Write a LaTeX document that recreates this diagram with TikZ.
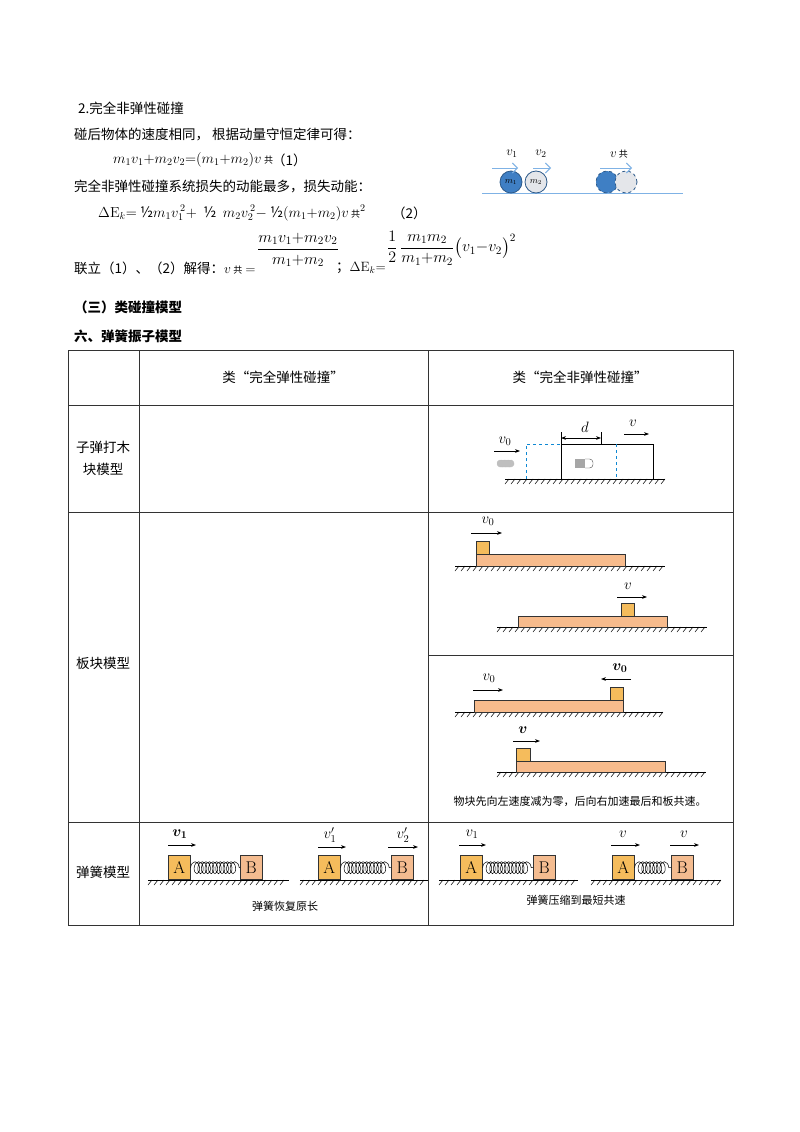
\RequirePackage{fix-cm}
\documentclass[tikz,border=0pt]{standalone}
\usepackage{amsmath}
\usepackage[no-math]{fontspec}
\setmainfont{Noto Sans CJK SC}
\usetikzlibrary{decorations.pathmorphing,arrows.meta}
\definecolor{ballblue}{HTML}{3F7FC4}
\definecolor{ballgray}{HTML}{E4E6EA}
\definecolor{lineblue}{HTML}{7FB2E5}
\definecolor{blkA}{HTML}{F5BC5C}
\definecolor{blkB}{HTML}{F4BC90}
\definecolor{board}{HTML}{F7BB8C}
\tikzset{
 txt/.style={anchor=west,inner sep=0pt,font=\fontsize{13.5}{16}\selectfont},
 ctxt/.style={inner sep=0pt,font=\fontsize{13.5}{16}\selectfont},
 small/.style={inner sep=0pt,font=\fontsize{11}{13}\selectfont},
 lbl/.style={inner sep=0pt,font=\fontsize{15}{17}\selectfont},
 tbl/.style={line width=0.8pt,draw=black!80},
 arr/.style={-{Stealth[length=5pt]},line width=0.8pt},
 blk/.style={draw=black!80,line width=0.6pt},
 spring/.style={decorate,decoration={coil,aspect=0.6,segment length=3.6pt,amplitude=6pt},line width=0.5pt},
 box/.style={blk,minimum width=22pt,minimum height=24pt,inner sep=0pt,anchor=south west,font=\fontsize{17}{18}\selectfont}
}
\newcommand{\gong}{\,{\fontsize{9}{10}\selectfont 共}}
\newcommand{\groundline}[3]{%
 \draw[line width=0.9pt] (#1,#3) -- (#2,#3);
 \pgfmathsetmacro{\gend}{#2-4}
 \pgfmathsetmacro{\gsec}{#1+6}
 \foreach \gx in {#1,\gsec,...,\gend}{\draw[line width=0.5pt] ({\gx+4},#3) -- (\gx,#3+5);}
}
\begin{document}
\begin{tikzpicture}[x=1pt,y=-1pt]
\useasboundingbox (0,0) rectangle (800,1132);
\fill[white] (0,0) rectangle (800,1132);
% top text
\node[txt] (t1) at (78,108) {2.完全非弹性碰撞};
\node[txt] (t2) at (74,135) {碰后物体的速度相同， 根据动量守恒定律可得：};
\node[txt,font=\fontsize{14.5}{16}\selectfont] (e1) at (113,160) {$m_1v_1{+}m_2v_2{=}(m_1{+}m_2)v$\gong};
\node[txt] (n1) at (272,160) {（1）};
\node[txt] (t3) at (74,186) {完全非弹性碰撞系统损失的动能最多，损失动能：};
\node[txt,font=\fontsize{14.5}{16}\selectfont] (e2) at (98,213) {$\Delta\mathrm{E}_k{=}$\ ½$m_1v_1^{\,2}{+}$\ \ ½\ \ $m_2v_2^{\,2}{-}$\ ½$(m_1{+}m_2)v$\gong$^2$};
\node[txt] (n2) at (392,213) {（2）};
\node[txt] (t4) at (74,268) {联立（1）、（2）解得：$v$\gong{} $=$};
\node[ctxt,font=\fontsize{16}{18}\selectfont] (f1) at (298,250) {$\displaystyle\frac{m_1v_1{+}m_2v_2}{m_1{+}m_2}$};
\node[txt] (t5) at (336,268) {；$\Delta\mathrm{E}_k{=}$};
\node[txt,font=\fontsize{16}{18}\selectfont] (f2) at (387,248) {$\displaystyle\frac12\,\frac{m_1m_2}{m_1{+}m_2}\bigl(v_1{-}v_2\bigr)^2$};
% balls
\draw[lineblue,line width=1pt] (482,193) -- (683,193);
\node[circle,draw=ballblue!70!black,fill=ballblue,minimum size=22pt,inner sep=0pt,line width=0.8pt,font=\small] (b1) at (511,182) {$m_1$};
\node[circle,draw=ballblue!70!black,fill=ballgray,minimum size=22pt,inner sep=0pt,line width=0.8pt,font=\small] (b2) at (536,182) {$m_2$};
\node[circle,draw=ballblue!70!black,fill=ballblue,dashed,minimum size=22pt,inner sep=0pt,line width=0.8pt] (b3) at (607,182) {};
\node[circle,draw=ballblue!70!black,fill=ballgray,dashed,minimum size=22pt,inner sep=0pt,line width=0.8pt] (b4) at (626,182) {};
\draw[lineblue,-{Straight Barb[length=5pt]},line width=0.9pt] (492,168) -- (518,168);
\draw[lineblue,-{Straight Barb[length=5pt]},line width=0.9pt] (533,168) -- (551,168);
\draw[lineblue,-{Straight Barb[length=5pt]},line width=0.9pt] (600,168) -- (632,168);
\node[lbl,font=\fontsize{13}{15}\selectfont] (lv1) at (512,154) {$v_1$};
\node[lbl,font=\fontsize{13}{15}\selectfont] (lv2) at (541,154) {$v_2$};
\node[lbl,font=\fontsize{13}{15}\selectfont] (lv3) at (619,154) {$v$\gong};
% headings
\node[txt,font=\fontsize{13.5}{16}\selectfont\bfseries] (h1) at (74,307) {（三）类碰撞模型};
\node[txt,font=\fontsize{13.5}{16}\selectfont\bfseries] (h2) at (74,336) {六、弹簧振子模型};
% table
\draw[tbl] (68,350) rectangle (733,925);
\draw[tbl] (139,350) -- (139,925);
\draw[tbl] (428,350) -- (428,925);
\draw[tbl] (68,405) -- (733,405);
\draw[tbl] (68,512) -- (733,512);
\draw[tbl] (68,822) -- (733,822);
\draw[tbl] (428,655) -- (733,655);
\node[ctxt] (c1) at (283,377) {类“完全弹性碰撞”};
\node[ctxt] (c2) at (580,377) {类“完全非弹性碰撞”};
\node[ctxt,align=center,font=\fontsize{13.5}{22}\selectfont] (r1) at (103,458) {子弹打木\\块模型};
\node[ctxt] (r2) at (103,663) {板块模型};
\node[ctxt] (r3) at (103,872) {弹簧模型};
% bullet into block
\groundline{505}{665}{479}
\draw[line width=0.8pt] (561,479) -- (561,444) -- (653,444) -- (653,479);
\draw[cyan!70!blue,dashed,line width=0.7pt] (526,479) -- (526,444) -- (561,444);
\draw[cyan!70!blue,dashed,line width=0.7pt] (616,444) -- (616,479);
\draw[line width=0.6pt] (601,432) -- (601,444);
\draw[line width=0.6pt] (561,432) -- (561,444);
\draw[arr,{Stealth[length=5pt]}-{Stealth[length=5pt]}] (561,438) -- (601,438);
\node[lbl] (ld) at (585,427) {$d$};
\draw[arr] (624,434) -- (649,434);
\node[lbl] (lv) at (633,423) {$v$};
\draw[arr] (494,451) -- (520,451);
\node[lbl] (lv0) at (505,441) {$v_0$};
\draw[gray!60,fill=gray!50,rounded corners=3pt,densely dotted] (497,460) -- (514,460) -- (514,467) -- (497,467) -- cycle;
\fill[gray!70] (575,459) rectangle (585,468);
\draw[black!70,fill=white,rounded corners=3.5pt] (585,459) -- (593,459) -- (593,468) -- (585,468);
% board 1
\groundline{455}{665}{566}
\draw[blk,fill=board] (476,554) rectangle (625,566);
\draw[blk,fill=blkA] (476,541) rectangle (489,554);
\draw[arr] (471,533) -- (502,533);
\node[lbl] (p1) at (488,521) {$v_0$};
% board 2
\groundline{497}{707}{627}
\draw[blk,fill=board] (518,616) rectangle (667,627);
\draw[blk,fill=blkA] (621,603) rectangle (634,616);
\draw[arr] (617,597) -- (647,597);
\node[lbl] (p2) at (628,586) {$v$};
% board 3
\groundline{455}{663}{712}
\draw[blk,fill=board] (474,700) rectangle (623,712);
\draw[blk,fill=blkA] (610,687) rectangle (623,700);
\draw[arr] (473,690) -- (503,690);
\node[lbl] (p3) at (489,678) {$v_0$};
\draw[arr] (631,679) -- (601,679);
\node[lbl] (p4) at (620,668) {$\boldsymbol{v_0}$};
% board 4
\groundline{497}{706}{772}
\draw[blk,fill=board] (516,761) rectangle (665,772);
\draw[blk,fill=blkA] (516,748) rectangle (530,761);
\draw[arr] (513,741) -- (540,741);
\node[lbl] (p5) at (523,730) {$\boldsymbol{v}$};
\node[small] (cap1) at (580,801) {物块先向左速度减为零，后向右加速最后和板共速。};
% springs
\groundline{148}{289}{880}
\node[box,fill=blkA] (A1) at (168,880) {$\mathrm{A}$};
\node[box,fill=blkB] (B1) at (240,880) {$\mathrm{B}$};
\draw[spring] (A1.east) -- (B1.west);
\draw[arr] (168,845) -- (196,845);
\node[lbl] (s1) at (180,834) {$\boldsymbol{v_1}$};
\groundline{300}{428}{880}
\node[box,fill=blkA] (A2) at (318,880) {$\mathrm{A}$};
\node[box,fill=blkB] (B2) at (391,880) {$\mathrm{B}$};
\draw[spring] (A2.east) -- (B2.west);
\draw[arr] (318,847) -- (346,847);
\node[lbl] (s2) at (330,835) {$v_1'$};
\draw[arr] (388,847) -- (418,847);
\node[lbl] (s3) at (403,835) {$v_2'$};
\node[small] (cap2) at (285,906) {弹簧恢复原长};
\groundline{439}{578}{880}
\node[box,fill=blkA] (A3) at (460,880) {$\mathrm{A}$};
\node[box,fill=blkB] (B3) at (533,880) {$\mathrm{B}$};
\draw[spring] (A3.east) -- (B3.west);
\draw[arr] (459,845) -- (486,845);
\node[lbl] (s4) at (472,834) {$v_1$};
\groundline{591}{721}{880}
\node[box,fill=blkA] (A4) at (612,880) {$\mathrm{A}$};
\node[box,fill=blkB] (B4) at (671,880) {$\mathrm{B}$};
\draw[spring] (A4.east) -- (B4.west);
\draw[arr] (611,845) -- (640,845);
\node[lbl] (s5) at (623,834) {$v$};
\draw[arr] (670,845) -- (699,845);
\node[lbl] (s6) at (684,834) {$v$};
\node[small] (cap3) at (576,900) {弹簧压缩到最短共速};
\end{tikzpicture}
\end{document}
